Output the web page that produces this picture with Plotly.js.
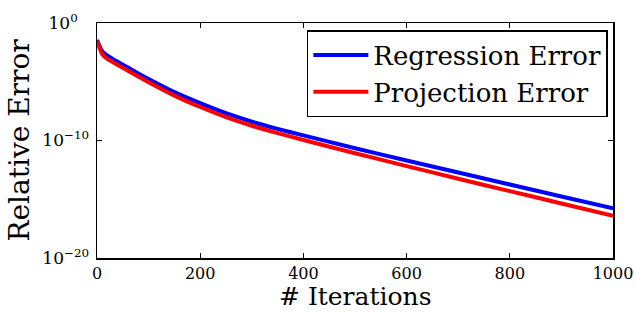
<!DOCTYPE html>
<html>
<head>
<meta charset="utf-8">
<script src="https://cdn.plot.ly/plotly-3.0.1.min.js"></script>
<style>html,body{margin:0;padding:0;background:#fff;}#chart{width:635px;height:312px;}</style>
</head>
<body>
<div id="chart"></div>
<script>
const iterations = [0, 5, 10, 20, 40, 60, 80, 100, 150, 200, 250, 300, 350, 400, 500, 600, 700, 800, 900, 1000];
const regressionError = [3.5e-2, 1.1e-2, 4.0e-3, 1.7e-3, 5.0e-4, 1.6e-4, 5.1e-5, 1.7e-5, 1.3e-6, 1.5e-7, 2.1e-8, 4.0e-9, 9.8e-10, 2.7e-10, 2.2e-11, 2.0e-12, 1.9e-13, 1.8e-14, 1.7e-15, 1.7e-16];
const projectionError = [3.0e-2, 7.6e-3, 2.2e-3, 8.9e-4, 2.7e-4, 8.5e-5, 2.8e-5, 9.1e-6, 6.6e-7, 7.1e-8, 9.8e-9, 1.8e-9, 4.2e-10, 1.1e-10, 8.3e-12, 6.6e-13, 5.6e-14, 4.9e-15, 4.4e-16, 3.9e-17];
const xTicks = [0, 200, 400, 600, 800, 1000];
const yTickVals = [1e-20, 1e-10, 1e0];
const yTickText = ['10<sup>\u221220</sup>', '10<sup>\u221210</sup>', '10<sup>0\u00a0\u00a0\u00a0</sup>'];
const seriesNames = ['Regression Error', 'Projection Error'];
const xTitle = '# Iterations';
const yTitle = 'Relative Error';

const font = 'DejaVu Serif, serif';
const traces = [
  {x: iterations, y: regressionError, name: seriesNames[0], mode: 'lines', line: {color: '#0000ff', width: 4, shape: 'spline', smoothing: 0.5}},
  {x: iterations, y: projectionError, name: seriesNames[1], mode: 'lines', line: {color: '#ff0000', width: 4, shape: 'spline', smoothing: 0.5}}
];
const axisCommon = {
  showgrid: false, zeroline: false, showline: true, linecolor: '#000', linewidth: 1.5,
  mirror: 'ticks', ticks: 'inside', ticklen: 5, tickcolor: '#000', tickwidth: 1
};
const layout = {
  width: 635, height: 312,
  margin: {l: 97, r: 22, t: 23, b: 54},
  paper_bgcolor: '#fff', plot_bgcolor: '#fff',
  showlegend: true,
  legend: {x: 0.99, y: 0.97, xanchor: 'right', yanchor: 'top', bordercolor: '#000', borderwidth: 1.5,
           bgcolor: '#fff', font: {family: font, size: 26, color: '#000'}, tracegroupgap: 0, itemwidth: 55},
  xaxis: Object.assign({}, axisCommon, {range: [0, 1000], tickvals: xTicks, ticktext: xTicks.map(String),
           tickfont: {family: font, size: 16, color: '#000'}, ticklabelstandoff: 0}),
  yaxis: Object.assign({}, axisCommon, {type: 'log', range: [-20, 0], tickvals: yTickVals, ticktext: yTickText,
           tickfont: {family: font, size: 17, color: '#000'}, ticklabelstandoff: 3,
           title: {text: yTitle, font: {family: font, size: 28, color: '#000'}, standoff: 4}}),
  annotations: [{
    text: xTitle, xref: 'paper', yref: 'paper', x: 0.5, y: -0.1638, xanchor: 'center', yanchor: 'middle',
    showarrow: false, font: {family: font, size: 25, color: '#000'}, borderpad: 0
  }]
};
Plotly.newPlot('chart', traces, layout, {displayModeBar: false, staticPlot: true});
</script>
</body>
</html>
